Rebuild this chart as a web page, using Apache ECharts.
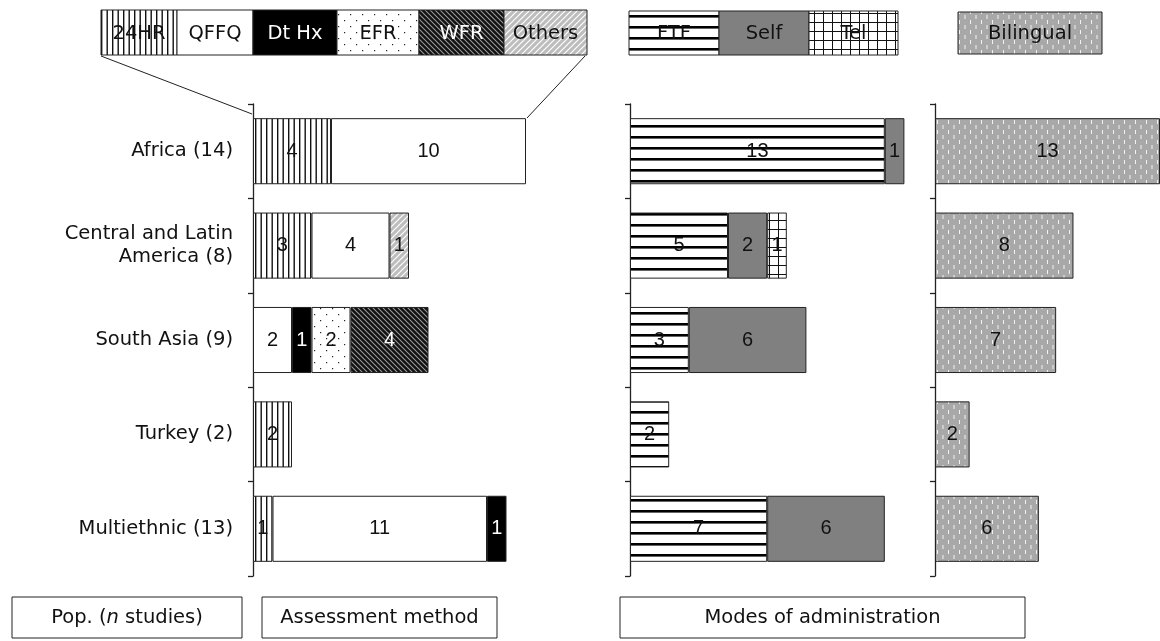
<!DOCTYPE html>
<html><head><meta charset="utf-8">
<script src="https://cdn.jsdelivr.net/npm/echarts@6/dist/echarts.min.js"></script>
<style>html,body{margin:0;padding:0;background:#fff}#c{width:1160px;height:641px}</style>
</head><body><div id="c"></div><script>
// ---- data ----
const categories = ['Africa (14)', 'Central and Latin\nAmerica (8)', 'South Asia (9)', 'Turkey (2)', 'Multiethnic (13)'];
const method24HR   = [4, 3, 0, 2, 1];
const methodQFFQ   = [10, 4, 2, 0, 11];
const methodDtHx   = [0, 0, 1, 0, 1];
const methodEFR    = [0, 0, 2, 0, 0];
const methodWFR    = [0, 0, 4, 0, 0];
const methodOthers = [0, 1, 0, 0, 0];
const modeFTF      = [13, 5, 3, 2, 7];
const modeSelf     = [1, 2, 6, 0, 6];
const modeTel      = [0, 1, 0, 0, 0];
const bilingual    = [13, 8, 7, 2, 6];
const methodNames  = ['24HR', 'QFFQ', 'Dt Hx', 'EFR', 'WFR', 'Others'];
const modeNames    = ['FTF', 'Self', 'Tel'];
const footerLabels = ['Pop. (n studies)', 'Assessment method', 'Modes of administration'];

// ---- patterns ----
function tile(w, h, draw) {
  const c = document.createElement('canvas'); c.width = w; c.height = h;
  draw(c.getContext('2d'), w, h); return { image: c, repeat: 'repeat' };
}
const P = {
  hr24: tile(11, 4, (g, w, h) => { g.fillStyle = '#fff'; g.fillRect(0, 0, w, h); g.fillStyle = '#111'; g.fillRect(2, 0, 1.4, h); g.fillRect(7.5, 0, 1.4, h); }),
  qffq: '#ffffff',
  dthx: '#000000',
  efr: tile(12, 12, (g, w, h) => { g.fillStyle = '#fff'; g.fillRect(0, 0, w, h); g.fillStyle = '#222'; g.fillRect(2, 2, 1.2, 1.2); g.fillRect(8, 8, 1.2, 1.2); }),
  wfr: tile(5, 5, (g, w, h) => { g.fillStyle = '#111'; g.fillRect(0, 0, w, h); g.strokeStyle = '#9a9a9a'; g.lineWidth = 1.1;
    for (let k = -1; k <= 1; k++) { g.beginPath(); g.moveTo(k * w - 1, -1); g.lineTo(k * w + w + 1, h + 1); g.stroke(); } }),
  others: tile(6, 6, (g, w, h) => { g.fillStyle = '#bdbdbd'; g.fillRect(0, 0, w, h); g.strokeStyle = '#fff'; g.lineWidth = 1.2;
    for (let k = -1; k <= 1; k++) { g.beginPath(); g.moveTo(k * w - 1, h + 1); g.lineTo(k * w + w + 1, -1); g.stroke(); } }),
  ftf: tile(4, 11, (g, w, h) => { g.fillStyle = '#fff'; g.fillRect(0, 0, w, h); g.fillStyle = '#000'; g.fillRect(0, 4, w, 2.6); }),
  self: '#808080',
  tel: tile(9, 9, (g, w, h) => { g.fillStyle = '#fff'; g.fillRect(0, 0, w, h); g.fillStyle = '#111'; g.fillRect(4, 0, 1, h); g.fillRect(0, 4, w, 1); }),
  bil: tile(11, 10, (g, w, h) => { g.fillStyle = '#a8a8a8'; g.fillRect(0, 0, w, h); g.fillStyle = 'rgba(255,255,255,0.85)'; g.fillRect(2, 0, 1, 4); g.fillRect(7.5, 5, 1, 4); })
};

const FONT = '"DejaVu Sans", Verdana, sans-serif';
const NUMFONT = '"Liberation Sans", Arial, sans-serif';
function seg(name, data, xi, fill, labelColor) {
  return {
    name, type: 'bar', stack: 's' + xi, xAxisIndex: xi, yAxisIndex: xi, barWidth: '70%',
    data: data.map(v => v === 0 ? '-' : v),
    itemStyle: { color: fill, borderColor: '#222', borderWidth: 1 },
    label: { show: true, position: 'inside', color: labelColor, fontSize: 20, fontFamily: NUMFONT, formatter: p => p.value },
    emphasis: { disabled: true }, silent: true
  };
}

const grids = [
  { left: 253, top: 104, width: 273, height: 472 },
  { left: 630, top: 104, width: 274.4, height: 472 },
  { left: 935, top: 104, width: 229, height: 472 }
];
const xMax = [14, 14, 13];

function yAx(i) {
  return {
    type: 'category', gridIndex: i, data: categories, inverse: true,
    axisLine: { show: true, lineStyle: { color: '#222', width: 1.3 } },
    axisTick: { show: true, length: 5, lineStyle: { color: '#222', width: 1.3 } },
    axisLabel: i === 0 ? { show: true, color: '#111', fontSize: 19.5, fontFamily: FONT, margin: 20, lineHeight: 23, align: 'right' } : { show: false },
    splitLine: { show: false }
  };
}

// ---- legend / decorative graphics ----
const graphic = [];
function legendBoxes(x0, y0, h, widths, names, fills, colors) {
  let x = x0;
  widths.forEach((w, i) => {
    graphic.push({ type: 'rect', shape: { x, y: y0, width: w, height: h }, style: { fill: fills[i], stroke: '#222', lineWidth: 1 }, silent: true });
    graphic.push({ type: 'text', x: x + w / 2, y: y0 + h / 2 + 1, style: { text: names[i], fill: colors[i], font: '19.5px ' + FONT, align: 'center', verticalAlign: 'middle' }, silent: true });
    x += w;
  });
}
legendBoxes(101, 10, 45, [76, 76, 84, 82, 85, 83], methodNames,
  [P.hr24, P.qffq, P.dthx, P.efr, P.wfr, P.others], ['#111', '#111', '#fff', '#111', '#fff', '#111']);
legendBoxes(629, 11, 44, [90, 90, 89], modeNames, [P.ftf, P.self, P.tel], ['#111', '#111', '#111']);
legendBoxes(958, 12, 42, [144], ['Bilingual'], [P.bil], ['#111']);
graphic.push({ type: 'line', shape: { x1: 101, y1: 56, x2: 252, y2: 114 }, style: { stroke: '#222', lineWidth: 1 }, silent: true });
graphic.push({ type: 'line', shape: { x1: 585, y1: 56, x2: 527, y2: 118 }, style: { stroke: '#222', lineWidth: 1 }, silent: true });
// footer boxes
const footBoxes = [[12, 230], [262, 235], [620, 405]];
footBoxes.forEach(([x, w], i) => {
  graphic.push({ type: 'rect', shape: { x, y: 597, width: w, height: 41 }, style: { fill: '#fff', stroke: '#222', lineWidth: 1 }, silent: true });
  const txt = i === 0 ? '{a|Pop. (}{i|n}{a| studies)}' : '{a|' + footerLabels[i] + '}';
  graphic.push({ type: 'text', x: x + w / 2, y: 618, style: { text: txt, align: 'center', verticalAlign: 'middle',
    rich: { a: { fontSize: 19.5, fontFamily: FONT, fill: '#111' }, i: { fontSize: 19.5, fontFamily: FONT, fontStyle: 'italic', fill: '#111' } } }, silent: true });
});

const option = {
  animation: false,
  backgroundColor: '#fff',
  grid: grids,
  xAxis: grids.map((g, i) => ({ type: 'value', gridIndex: i, min: 0, max: xMax[i], show: false })),
  yAxis: grids.map((g, i) => yAx(i)),
  series: [
    seg('24HR', method24HR, 0, P.hr24, '#111'),
    seg('QFFQ', methodQFFQ, 0, P.qffq, '#111'),
    seg('Dt Hx', methodDtHx, 0, P.dthx, '#fff'),
    seg('EFR', methodEFR, 0, P.efr, '#111'),
    seg('WFR', methodWFR, 0, P.wfr, '#fff'),
    seg('Others', methodOthers, 0, P.others, '#111'),
    seg('FTF', modeFTF, 1, P.ftf, '#111'),
    seg('Self', modeSelf, 1, P.self, '#111'),
    seg('Tel', modeTel, 1, P.tel, '#111'),
    seg('Bilingual', bilingual, 2, P.bil, '#111')
  ],
  graphic
};
const chart = echarts.init(document.getElementById('c'), null, { renderer: 'canvas' });
chart.setOption(option);
</script></body></html>
